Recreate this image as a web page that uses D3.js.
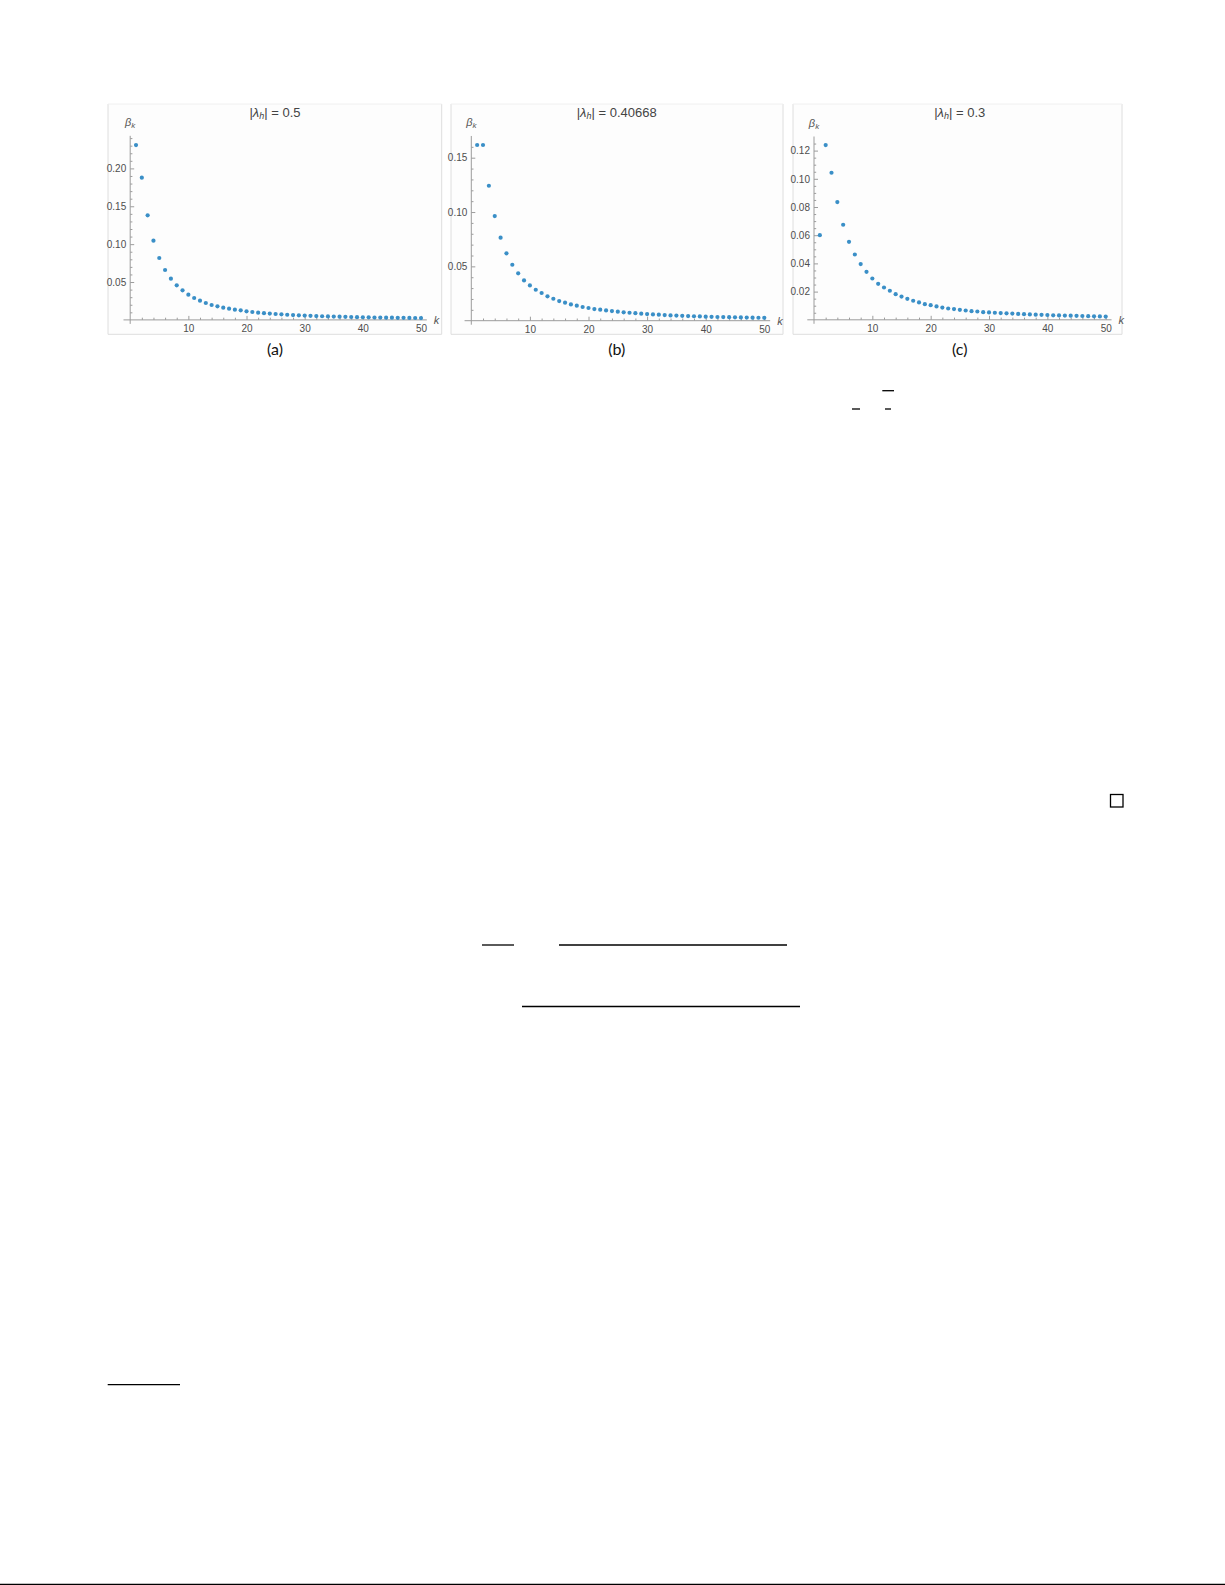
<!DOCTYPE html>
<html>
<head>
<meta charset="utf-8">
<script src="https://cdn.jsdelivr.net/npm/d3@7"></script>
<style>
  html, body { margin: 0; padding: 0; background: #fff; }
  svg { display: block; }
  .tick text { font-family: "Liberation Sans", Arial, sans-serif; font-size: 10px; fill: #4d4d4d; }
  .tick line { stroke: #9c9c9c; }
</style>
</head>
<body>
<div id="page"></div>
<script>
// Data: k = 1..50, beta_k for the three values of |lambda_h|
const ks = d3.range(1, 51);

const betaA = [
  0.2308, 0.1877, 0.1380, 0.1046, 0.0817, 0.0659, 0.0544, 0.0456, 0.0390, 0.0333,
  0.0289, 0.0254, 0.0223, 0.0197, 0.0179, 0.0161, 0.0148, 0.0135, 0.0126, 0.0113,
  0.0104, 0.0096, 0.0089, 0.0083, 0.0078, 0.0073, 0.0068, 0.0064, 0.0060, 0.0057,
  0.0054, 0.0051, 0.0048, 0.0046, 0.0044, 0.0042, 0.0040, 0.0038, 0.0036, 0.0035,
  0.0034, 0.0032, 0.0031, 0.0030, 0.0029, 0.0028, 0.0027, 0.0026, 0.0025, 0.0024
];

const betaB = [
  0.1617, 0.1617, 0.1242, 0.0963, 0.0764, 0.0620, 0.0515, 0.0436, 0.0371, 0.0325,
  0.0285, 0.0255, 0.0224, 0.0202, 0.0181, 0.0166, 0.0150, 0.0138, 0.0126, 0.0117,
  0.0107, 0.0101, 0.0095, 0.0089, 0.0083, 0.0077, 0.0073, 0.0069, 0.0065, 0.0061,
  0.0058, 0.0055, 0.0052, 0.0049, 0.0047, 0.0045, 0.0043, 0.0041, 0.0039, 0.0037,
  0.0036, 0.0034, 0.0033, 0.0032, 0.0031, 0.0030, 0.0029, 0.0028, 0.0027, 0.0026
];

const betaC = [
  0.0600, 0.1239, 0.1043, 0.0835, 0.0674, 0.0553, 0.0463, 0.0395, 0.0340, 0.0293,
  0.0255, 0.0229, 0.0206, 0.0182, 0.0165, 0.0149, 0.0135, 0.0123, 0.0111, 0.0104,
  0.0095, 0.0087, 0.0080, 0.0076, 0.0071, 0.0066, 0.0061, 0.0059, 0.0054, 0.0052,
  0.0050, 0.0048, 0.0046, 0.0044, 0.0042, 0.0040, 0.0038, 0.0036, 0.0035, 0.0034,
  0.0032, 0.0031, 0.0030, 0.0029, 0.0028, 0.0027, 0.0026, 0.0025, 0.0024, 0.0023
];

const lambdaLabels = ["0.5", "0.40668", "0.3"];
const captions = ["(a)", "(b)", "(c)"];
const xMajorTicks = [10, 20, 30, 40, 50];
const yMajorA = [0.05, 0.10, 0.15, 0.20];
const yMajorB = [0.05, 0.10, 0.15];
const yMajorC = [0.02, 0.04, 0.06, 0.08, 0.10, 0.12];

const W = 1225, H = 1585;
const dotColor = "#3a8fc7";
const axisColor = "#9c9c9c";

const svg = d3.select("#page").append("svg")
  .attr("width", W)
  .attr("height", H);

class ScatterPanel {
  /**
   * One Mathematica-style ListPlot panel.
   * @param {Object} _config frame box, pixel anchors of the axes, ticks
   * @param {Array} _data beta_k values
   */
  constructor(_config, _data) {
    this.config = _config;
    this.data = _data;
    this.initVis();
  }

  initVis() {
    let vis = this;
    const c = vis.config;

    vis.g = svg.append("g");

    // light frame around the panel (top edge almost invisible in the scan)
    vis.g.append("rect")
      .attr("x", c.frame[0]).attr("y", c.frame[1])
      .attr("width", c.frame[2] - c.frame[0])
      .attr("height", c.frame[3] - c.frame[1])
      .attr("fill", "#fdfdfd")
      .attr("stroke", "none");
    vis.g.append("path")
      .attr("d", `M${c.frame[0]},${c.frame[1]}V${c.frame[3]}H${c.frame[2]}V${c.frame[1]}`)
      .attr("fill", "none")
      .attr("stroke", "#dedede")
      .attr("stroke-width", 1);
    vis.g.append("line")
      .attr("x1", c.frame[0]).attr("x2", c.frame[2])
      .attr("y1", c.frame[1]).attr("y2", c.frame[1])
      .attr("stroke", "#f0f0f0")
      .attr("stroke-width", 1);

    // scales anchored at k=0..50 and beta=0..refValue
    vis.xScale = d3.scaleLinear().domain([0, 50]).range([c.x0, c.x50]);
    vis.yScale = d3.scaleLinear().domain([0, c.yRef]).range([c.y0, c.yRefPx]);

    const xs = vis.xScale, ys = vis.yScale;

    // axis lines (crossing at the origin, slightly overshooting)
    vis.g.append("line")
      .attr("x1", xs(-1.15)).attr("x2", xs(51))
      .attr("y1", ys(0)).attr("y2", ys(0))
      .attr("stroke", axisColor).attr("stroke-width", 1);
    vis.g.append("line")
      .attr("x1", xs(0)).attr("x2", xs(0))
      .attr("y1", ys(c.yTop)).attr("y2", ys(0) + 4)
      .attr("stroke", axisColor).attr("stroke-width", 1);

    // x ticks point up, labels below
    const xMinor = d3.range(2, 51, 2).filter(d => d % 10 !== 0);
    vis.g.append("g")
      .attr("transform", `translate(0,${ys(0)})`)
      .call(d3.axisBottom(xs).tickValues(xMinor).tickSize(-2.2).tickFormat(""))
      .call(g => g.select(".domain").remove());
    vis.g.append("g")
      .attr("transform", `translate(0,${ys(0)})`)
      .call(d3.axisBottom(xs).tickValues(xMajorTicks).tickSize(-4).tickPadding(5).tickFormat(d3.format("d")))
      .call(g => g.select(".domain").remove());

    // y ticks point right, labels on the left
    const yMinor = d3.range(c.yMinorStep, c.yTop, c.yMinorStep)
      .filter(d => !c.yTicks.some(t => Math.abs(t - d) < 1e-6));
    vis.g.append("g")
      .attr("transform", `translate(${xs(0)},0)`)
      .call(d3.axisLeft(ys).tickValues(yMinor).tickSize(-2.2).tickFormat(""))
      .call(g => g.select(".domain").remove());
    vis.g.append("g")
      .attr("transform", `translate(${xs(0)},0)`)
      .call(d3.axisLeft(ys).tickValues(c.yTicks).tickSize(-4).tickPadding(4).tickFormat(d3.format(".2f")))
      .call(g => g.select(".domain").remove());

    // axis labels
    const yLab = vis.g.append("text")
      .attr("x", xs(0)).attr("y", ys(c.yTop) - 10)
      .attr("text-anchor", "middle")
      .style("font-family", "Liberation Sans, Arial, sans-serif")
      .style("font-size", "11px")
      .style("font-style", "italic")
      .attr("fill", "#555");
    yLab.append("tspan").text("β");
    yLab.append("tspan").attr("dy", 2.5).style("font-size", "8px").text("k");

    vis.g.append("text")
      .attr("x", xs(51) + 7).attr("y", ys(0) + 4.5)
      .style("font-family", "Liberation Sans, Arial, sans-serif")
      .style("font-size", "11px")
      .style("font-style", "italic")
      .attr("fill", "#555")
      .text("k");

    // title |lambda_h| = ...
    const t = vis.g.append("text")
      .attr("x", c.titleX).attr("y", 116.5)
      .attr("text-anchor", "middle")
      .style("font-family", "Liberation Sans, Arial, sans-serif")
      .style("font-size", "13px")
      .attr("fill", "#444");
    t.append("tspan").text("|");
    t.append("tspan").style("font-style", "italic").text("λ");
    t.append("tspan").style("font-style", "italic").style("font-size", "9px").attr("dy", 2.5).text("h");
    t.append("tspan").attr("dy", -2.5).text("| = " + c.label);

    // caption
    vis.g.append("text")
      .attr("x", c.titleX).attr("y", 355)
      .attr("text-anchor", "middle")
      .style("font-family", "Lato, Open Sans, sans-serif")
      .style("font-size", "16px")
      .attr("fill", "#111")
      .text(c.caption);

    // points
    vis.g.selectAll(".dot")
      .data(vis.data.map((v, i) => ({ k: ks[i], v })))
      .enter().append("circle")
      .attr("class", "dot")
      .attr("cx", d => xs(d.k))
      .attr("cy", d => ys(d.v))
      .attr("r", 2.1)
      .attr("fill", dotColor);
  }
}

new ScatterPanel({
  frame: [108, 104, 441.7, 334.3],
  x0: 130.2, x50: 421, y0: 319.9, yRef: 0.20, yRefPx: 168.4,
  yTop: 0.243, yTicks: yMajorA, yMinorStep: 0.01,
  titleX: 275, label: lambdaLabels[0], caption: captions[0]
}, betaA);

new ScatterPanel({
  frame: [451, 104, 783, 334.3],
  x0: 471.3, x50: 764.3, y0: 320.7, yRef: 0.15, yRefPx: 157.7,
  yTop: 0.170, yTicks: yMajorB, yMinorStep: 0.01,
  titleX: 616.7, label: lambdaLabels[1], caption: captions[1]
}, betaB);

new ScatterPanel({
  frame: [793, 104, 1122, 334.3],
  x0: 814, x50: 1105.7, y0: 319.8, yRef: 0.12, yRefPx: 150.6,
  yTop: 0.13, yTicks: yMajorC, yMinorStep: 0.005,
  titleX: 959.7, label: lambdaLabels[2], caption: captions[2]
}, betaC);

// leftover strokes of the surrounding page (fraction bars, qed box, rules)
const rules = [
  [882.3, 390.7, 894, 390.7],
  [852, 409, 860, 409],
  [885, 409, 891, 409],
  [482, 945, 514, 945],
  [559, 945, 787, 945],
  [522, 1006.5, 800, 1006.5],
  [107.7, 1384.7, 180, 1384.7],
  [0, 1584.3, W, 1584.3]
];
svg.append("g").selectAll("line")
  .data(rules)
  .enter().append("line")
  .attr("x1", d => d[0]).attr("y1", d => d[1])
  .attr("x2", d => d[2]).attr("y2", d => d[3])
  .attr("stroke", "#000")
  .attr("stroke-width", 1.3);

svg.append("rect")
  .attr("x", 1110.5).attr("y", 794.5)
  .attr("width", 12.5).attr("height", 12.5)
  .attr("fill", "none")
  .attr("stroke", "#000")
  .attr("stroke-width", 1.3);
</script>
</body>
</html>
